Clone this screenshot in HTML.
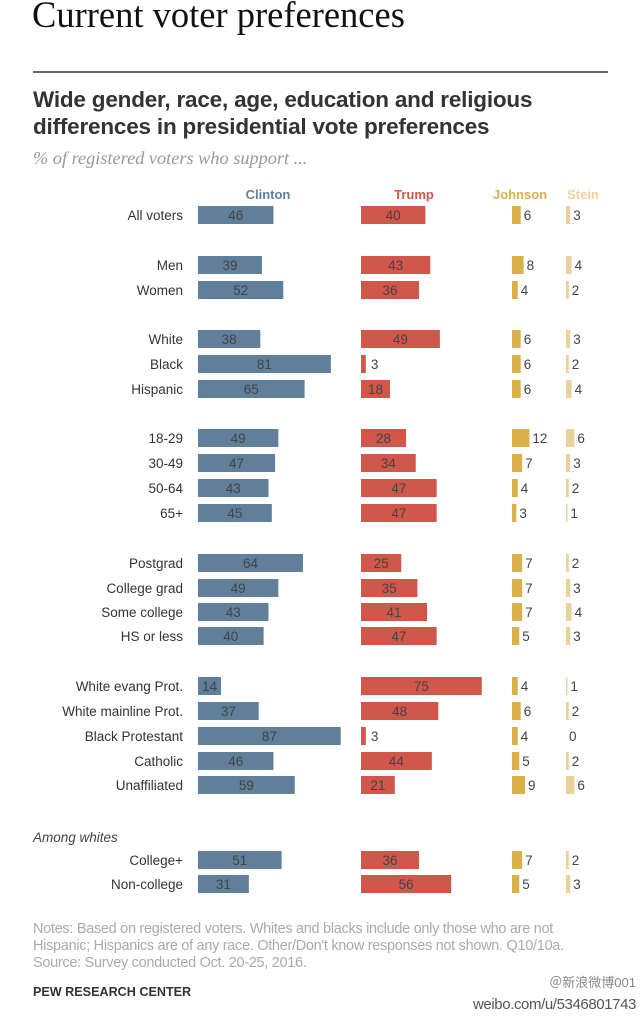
<!DOCTYPE html>
<html><head><meta charset="utf-8"><style>
body{margin:0;width:640px;height:1020px;background:#fff;overflow:hidden;font-family:"Liberation Sans",sans-serif;position:relative}
.t{position:absolute;white-space:nowrap}
</style></head><body>
<div class="t" style="left:32px;top:-7px;font-family:'Liberation Serif',serif;font-size:36.5px;color:#111">Current voter preferences</div>
<div style="position:absolute;left:33px;top:71px;width:575px;height:2px;background:#666"></div>
<div class="t" style="left:33px;top:86px;font-size:22.5px;font-weight:bold;color:#333;line-height:27px;letter-spacing:-0.2px">Wide gender, race, age, education and religious<br>differences in presidential vote preferences</div>
<div class="t" style="left:33px;top:148px;font-family:'Liberation Serif',serif;font-style:italic;font-size:18.3px;color:#999">% of registered voters who support ...</div>
<svg id="chart" width="640" height="1020" style="position:absolute;left:0;top:0" font-family="Liberation Sans, sans-serif"></svg>
<div class="t" style="left:33px;top:921px;font-size:14.5px;color:#aaa;line-height:17px;letter-spacing:-0.3px">Notes: Based on registered voters. Whites and blacks include only those who are not<br>Hispanic; Hispanics are of any race. Other/Don't know responses not shown. Q10/10a.<br>Source: Survey conducted Oct. 20-25, 2016.</div>
<div class="t" style="left:33px;top:985px;font-size:12.6px;font-weight:bold;color:#333">PEW RESEARCH CENTER</div>
<div class="t" style="right:4px;top:972px;font-size:13px;color:#888;line-height:22px;text-align:right">＠新浪微博001<br><span style="font-size:15px;color:#555;letter-spacing:-0.4px">weibo.com/u/5346801743</span></div>
<script>
const categories=["All voters","Men","Women","White","Black","Hispanic","18-29","30-49","50-64","65+","Postgrad","College grad","Some college","HS or less","White evang Prot.","White mainline Prot.","Black Protestant","Catholic","Unaffiliated","College+","Non-college"];
const rowY=[215,265,290,339,364,389,438,463,488,513,563,588,612,636,686,711,736,761,785,860,884];
const clinton=[46,39,52,38,81,65,49,47,43,45,64,49,43,40,14,37,87,46,59,51,31];
const trump=[40,43,36,49,3,18,28,34,47,47,25,35,41,47,75,48,3,44,21,36,56];
const johnson=[6,8,4,6,6,6,12,7,4,3,7,7,7,5,4,6,4,5,9,7,5];
const stein=[3,4,2,3,2,4,6,3,2,1,2,3,4,3,1,2,0,2,6,2,3];
const series=[
 {name:"Clinton",vals:clinton,x0:198,col:"#5f7f9b",inside:true,hx:268,k:1.64},
 {name:"Trump",vals:trump,x0:361,col:"#d0574a",inside:true,hx:414,k:1.61},
 {name:"Johnson",vals:johnson,x0:512,col:"#d9b04a",inside:false,hx:520,k:1.45},
 {name:"Stein",vals:stein,x0:566,col:"#ead29a",inside:false,hx:583,k:1.4}];
const svg=document.getElementById('chart');
const NS="http://www.w3.org/2000/svg";
function mk(tag,a,txt){const e=document.createElementNS(NS,tag);for(const k in a)e.setAttribute(k,a[k]);if(txt!==undefined)e.textContent=txt;svg.appendChild(e);return e;}
series.forEach(s=>{
 const h=mk('text',{x:s.hx,y:199,'text-anchor':'middle','font-size':13,'font-weight':'bold',fill:s.col},s.name);
 
 
});
const aw=mk('text',{x:33,y:842,'font-size':13.5,'font-style':'italic',fill:'#444'},'Among whites');


categories.forEach((c,i)=>{
 const y=rowY[i];
 const l=mk('text',{x:183,y:y+5,'text-anchor':'end','font-size':13.5,fill:'#333'},c);
 
 
 series.forEach(s=>{
  const v=s.vals[i],w=v*s.k;
  const r=mk('rect',{x:s.x0,y:y-9,width:w,height:18,fill:s.col});
  
  
  let tx,anchor;
  if(s.inside&&v>=10){tx=s.x0+w/2;anchor='middle';}else{tx=s.x0+w+(s.inside?5:3);anchor='start';}
  const t=mk('text',{x:tx,y:y+5,'text-anchor':anchor,'font-size':13.5,fill:'#444'},v);
  
  
 });
});
</script>
</body></html>
